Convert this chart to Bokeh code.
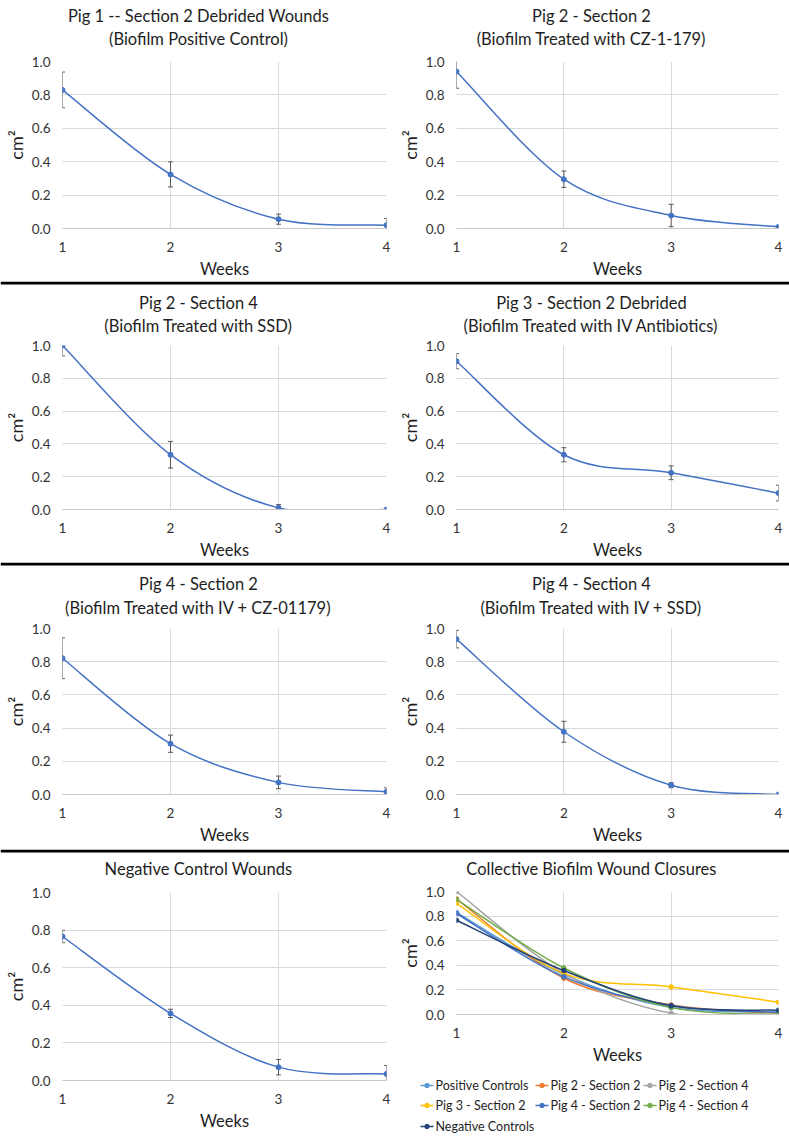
from bokeh.plotting import figure
from bokeh.models import Range1d, FixedTicker, PrintfTickFormatter, Span
from bokeh.core.properties import value
from bokeh.layouts import column, row
from bokeh.embed import file_html
from bokeh.resources import INLINE

# ---------------- data ----------------
weeks = [1, 2, 3, 4]
y_ticks = [0.0, 0.2, 0.4, 0.6, 0.8, 1.0]

pos_ctrl = [0.83, 0.324, 0.056, 0.02]
pos_ctrl_err = [0.107, 0.075, 0.03, 0.04]

pig2_sec2 = [0.94, 0.295, 0.078, 0.01]
pig2_sec2_err = [0.10, 0.049, 0.067, 0.005]

pig2_sec4 = [1.0, 0.334, 0.01, 0.0]
pig2_sec4_err = [0.064, 0.081, 0.02, 0.0]

pig3_sec2 = [0.904, 0.334, 0.224, 0.10]
pig3_sec2_err = [0.046, 0.043, 0.042, 0.048]

pig4_sec2 = [0.821, 0.306, 0.073, 0.016]
pig4_sec2_err = [0.123, 0.052, 0.038, 0.024]

pig4_sec4 = [0.936, 0.378, 0.056, 0.0]
pig4_sec4_err = [0.053, 0.063, 0.015, 0.0]

neg_ctrl = [0.766, 0.357, 0.071, 0.035]
neg_ctrl_err = [0.033, 0.022, 0.041, 0.045]

collective_names = ["Positive Controls", "Pig 2 - Section 2", "Pig 2 - Section 4",
                    "Pig 3 - Section 2", "Pig 4 - Section 2", "Pig 4 - Section 4",
                    "Negative Controls"]
collective_series = [pos_ctrl, pig2_sec2, pig2_sec4, pig3_sec2, pig4_sec2, pig4_sec4, neg_ctrl]
collective_colors = ["#5B9BD5", "#ED7D31", "#A5A5A5", "#FFC000", "#4472C4", "#70AD47", "#264478"]

titles_row1 = ["Pig 1 -- Section 2 Debrided Wounds", "(Biofilm Positive Control)",
               "Pig 2 - Section 2", "(Biofilm Treated with CZ-1-179)"]
titles_row2 = ["Pig 2 - Section 4", "(Biofilm Treated with SSD)",
               "Pig 3 - Section 2 Debrided", "(Biofilm Treated with IV Antibiotics)"]
titles_row3 = ["Pig 4 - Section 2", "(Biofilm Treated with IV + CZ-01179)",
               "Pig 4 - Section 4", "(Biofilm Treated with IV + SSD)"]
titles_row4 = ["Negative Control Wounds", "Collective Biofilm Wound Closures"]

# ---------------- style / layout ----------------
FONT = "Lato"
LINE_BLUE = "#4472C4"
GRID = "#d9d9d9"
TXT = "#1e1e1e"
TICK_TXT = "#333333"
ERR = "#595959"
W_L, W_R = 395, 394
TOTAL_W = W_L + W_R
LEG_COL_X = [25, 140, 248]     # legend column starts (pixels inside legend strip)
LEG_ROW_Y = [18, 38, 59]       # legend row centres (pixels inside legend strip)
LEG_KEY = 13


def smooth(xs, ys):
    """Bezier control points (Excel-like smoothed line) derived from the data."""
    n = len(xs)
    d = dict(x0=[], y0=[], x1=[], y1=[], cx0=[], cy0=[], cx1=[], cy1=[])
    for i in range(n - 1):
        xp, yp = (xs[i - 1], ys[i - 1]) if i > 0 else (xs[i], ys[i])
        xn, yn = (xs[i + 2], ys[i + 2]) if i + 2 < n else (xs[i + 1], ys[i + 1])
        d["x0"].append(xs[i]); d["y0"].append(ys[i])
        d["x1"].append(xs[i + 1]); d["y1"].append(ys[i + 1])
        d["cx0"].append(xs[i] + (xs[i + 1] - xp) / 6.0)
        d["cy0"].append(ys[i] + (ys[i + 1] - yp) / 6.0)
        d["cx1"].append(xs[i + 1] - (xn - xs[i]) / 6.0)
        d["cy1"].append(ys[i + 1] - (yn - ys[i]) / 6.0)
    return d


def blank(w, h):
    s = figure(width=w, height=h, min_border=0, toolbar_location=None,
               output_backend="svg", title=None, x_axis_type=None, y_axis_type=None,
               x_range=Range1d(0, w), y_range=Range1d(h, 0),
               outline_line_color=None, background_fill_color="white",
               border_fill_color="white")
    s.grid.visible = False
    return s


def strip(h, texts, xs, ys, sep=True):
    """Title strip (pixel coordinates) with an optional black separator on top."""
    s = blank(TOTAL_W, h)
    if sep:
        s.add_layout(Span(location=1.5, dimension="width", line_color="black", line_width=3))
    s.text(x=xs, y=ys, text=texts, text_align="center", text_baseline="middle",
           text_font=value(FONT), text_font_size=value("16.5px"), text_color=TXT)
    return s


def make_panel(side, h, top, bottom):
    if side == "L":
        w, left, right = W_L, 62, 9
    else:
        w, left, right = W_R, 60, 11
    p = figure(width=w, height=h, min_border_left=left, min_border_right=right,
               min_border_top=top, min_border_bottom=bottom,
               x_range=Range1d(1, 4), y_range=Range1d(0, 1),
               toolbar_location=None, output_backend="svg", title=None,
               outline_line_color=None, background_fill_color="white",
               border_fill_color="white")
    p.xaxis.ticker = FixedTicker(ticks=weeks)
    p.yaxis.ticker = FixedTicker(ticks=y_ticks)
    p.yaxis.formatter = PrintfTickFormatter(format="%.1f")
    for ax in (p.xaxis, p.yaxis):
        ax.major_tick_out = 0
        ax.major_tick_in = 0
        ax.minor_tick_out = 0
        ax.minor_tick_in = 0
        ax.major_label_text_font = FONT
        ax.major_label_text_font_size = "13.5px"
        ax.major_label_text_color = TICK_TXT
        ax.axis_label_text_font = FONT
        ax.axis_label_text_font_style = "normal"
        ax.axis_label_text_color = TXT
    p.xaxis.axis_label = "Weeks"
    p.xaxis.axis_label_text_font_size = "16.5px"
    p.xaxis.axis_label_standoff = 4
    p.yaxis.axis_label = "cm²"
    p.yaxis.axis_label_text_font_size = "18px"
    p.yaxis.axis_label_standoff = 2
    p.xaxis.axis_line_color = "#c8c8c8"
    p.yaxis.axis_line_color = None
    p.xaxis.major_label_standoff = 13
    p.yaxis.major_label_standoff = 12
    p.xgrid.ticker = FixedTicker(ticks=weeks)
    p.ygrid.ticker = FixedTicker(ticks=y_ticks)
    p.xgrid.grid_line_color = GRID
    p.ygrid.grid_line_color = GRID
    return p


def single(side, h, top, bottom, vals, errs):
    p = make_panel(side, h, top, bottom)
    lo = [v - e for v, e in zip(vals, errs)]
    hi = [v + e for v, e in zip(vals, errs)]
    p.segment(x0=weeks, y0=lo, x1=weeks, y1=hi, line_color=ERR, line_width=1)
    p.scatter(x=weeks, y=lo, marker="dash", size=5, line_color=ERR, line_width=1)
    p.scatter(x=weeks, y=hi, marker="dash", size=5, line_color=ERR, line_width=1)
    p.bezier(line_color=LINE_BLUE, line_width=1.5, **smooth(weeks, vals))
    p.scatter(x=weeks, y=vals, size=5, marker="circle", color=LINE_BLUE)
    return p


TX = [198, 198, 591, 591]

s1 = strip(47, titles_row1, TX, [15, 38, 15, 38], sep=False)
p1 = single("L", 234, 14, 53, pos_ctrl, pos_ctrl_err)
p2 = single("R", 234, 14, 53, pig2_sec2, pig2_sec2_err)

s2 = strip(54, titles_row2, TX, [21, 44, 21, 44])
p3 = single("L", 227, 10, 50, pig2_sec4, pig2_sec4_err)
p4 = single("R", 227, 10, 50, pig3_sec2, pig3_sec2_err)

s3 = strip(55, titles_row3, TX, [21, 45, 21, 45])
p5 = single("L", 232, 11, 55, pig4_sec2, pig4_sec2_err)
p6 = single("R", 232, 11, 55, pig4_sec4, pig4_sec4_err)

s4 = strip(29, titles_row4, [198, 591], [19, 19])
p7 = single("L", 259, 14, 57, neg_ctrl, neg_ctrl_err)

# collective panel
p8 = make_panel("R", 189, 13, 50)
for vals, col in zip(collective_series, collective_colors):
    p8.bezier(line_color=col, line_width=1.5, **smooth(weeks, vals))
    p8.scatter(x=weeks, y=vals, size=4.5, marker="circle", color=col)

# legend for the collective panel (keys + labels laid out in a strip below it)
lg = blank(W_R, 70)
kx = [LEG_COL_X[i % 3] for i in range(len(collective_names))]
ky = [LEG_ROW_Y[i // 3] for i in range(len(collective_names))]
lg.segment(x0=kx, y0=ky, x1=[x + LEG_KEY for x in kx], y1=ky,
           line_color=collective_colors, line_width=1.6)
lg.scatter(x=[x + LEG_KEY / 2 for x in kx], y=ky, size=4.5, marker="circle",
           color=collective_colors)
lg.text(x=[x + LEG_KEY + 2 for x in kx], y=ky, text=collective_names,
        text_align="left", text_baseline="middle", text_font=value(FONT),
        text_font_size=value("12.5px"), text_color=TXT)

layout = column(s1, row(p1, p2), s2, row(p3, p4), s3, row(p5, p6), s4,
                row(p7, column(p8, row(lg))))

open("out.html", "w").write(file_html(layout, INLINE))
